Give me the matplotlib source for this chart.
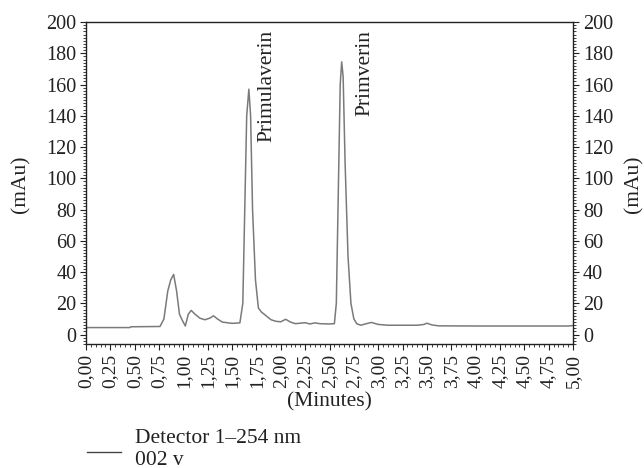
import matplotlib
matplotlib.use("Agg")
import matplotlib.pyplot as plt
from matplotlib.ticker import MultipleLocator, FuncFormatter
from matplotlib.lines import Line2D

plt.rcParams['font.family'] = ['Liberation Serif', 'DejaVu Serif']

times = [0.00, 0.45, 0.46, 0.76, 0.80, 0.84, 0.87, 0.90, 0.93, 0.96, 0.99, 1.02, 1.05, 1.08,
         1.12, 1.17, 1.22, 1.27, 1.31, 1.35, 1.40, 1.50, 1.58, 1.61, 1.63, 1.65, 1.672, 1.69,
         1.71, 1.74, 1.77, 1.80, 1.85, 1.90, 1.95, 2.00, 2.05, 2.10, 2.15, 2.25, 2.30, 2.35,
         2.40, 2.50, 2.55, 2.57, 2.59, 2.61, 2.625, 2.64, 2.66, 2.69, 2.72, 2.75, 2.78, 2.82,
         2.88, 2.93, 3.00, 3.10, 3.40, 3.47, 3.50, 3.55, 3.62, 4.00, 4.95, 5.00]
signal = [4.5, 4.5, 5.0, 5.2, 10, 28, 35, 38.5, 28, 13, 9, 5.5, 13, 15.5,
          13, 10.5, 9.5, 10.5, 12, 10, 8, 7.2, 7.5, 20, 80, 140, 157, 140,
          80, 35, 17, 14.5, 12, 9.5, 8.5, 8.2, 9.8, 8, 7, 7.6, 6.8, 7.5,
          7, 6.8, 7.0, 20, 90, 160, 174.5, 165, 110, 50, 20, 10, 7, 6,
          7, 7.8, 6.5, 6, 6, 6.5, 7.3, 6.2, 5.6, 5.5, 5.5, 5.8]

peak_names = ["Primulaverin", "Primverin"]
peak_label_x = [1.86, 2.86]
peak_label_top = [195, 195]

fig = plt.figure(figsize=(6.44, 4.68), dpi=100)
ax = fig.add_axes([0.1335, 0.265, 0.7563, 0.688])
line_color = '#7a7a7a'
ax.plot(times, signal, color=line_color, lw=1.1)
ax.set_xlim(0, 5)
ax.set_ylim(-6, 200)

tc = '#222222'
ax.xaxis.set_major_locator(MultipleLocator(0.25))
ax.xaxis.set_minor_locator(MultipleLocator(0.05))
ax.xaxis.set_major_formatter(FuncFormatter(lambda v, p: f"{v:.2f}".replace('.', ',')))
ax.yaxis.set_major_locator(MultipleLocator(20))
ax.yaxis.set_minor_locator(MultipleLocator(2))
ax.tick_params(axis='x', which='major', labelrotation=90, length=4, width=0.8, labelsize=14,
               color=tc, labelcolor=tc, pad=3)
ax.tick_params(axis='x', which='minor', length=2, width=0.6, color=tc)
ax.tick_params(axis='y', which='major', length=4, width=0.8, labelsize=14.5, left=True, right=True,
               labelleft=True, labelright=True, color=tc, labelcolor=tc, pad=3)
ax.tick_params(axis='y', which='minor', length=2, width=0.6, left=True, right=True, color=tc)
for s in ax.spines.values():
    s.set_color(tc)
    s.set_linewidth(1.0)

ax.set_xlabel("(Minutes)", fontsize=15.5, color=tc, labelpad=3)
fig.text(0.032, 0.607, "(mAu)", rotation=90, ha='center', va='center', fontsize=15.5, color=tc)
fig.text(0.985, 0.607, "(mAu)", rotation=90, ha='center', va='center', fontsize=15.5, color=tc)

for name, x, y in zip(peak_names, peak_label_x, peak_label_top):
    ax.text(x, y, name, rotation=90, ha='center', va='top', fontsize=15.5, color=tc)

fig.add_artist(Line2D([0.135, 0.188], [0.034, 0.034], color='#444444', lw=1.0, transform=fig.transFigure))
fig.text(0.209, 0.064, "Detector 1\u2013254 nm", fontsize=15.5, color=tc, va='center')
fig.text(0.209, 0.017, "002 v", fontsize=15.5, color=tc, va='center')

fig.savefig("out.png", dpi=100)
